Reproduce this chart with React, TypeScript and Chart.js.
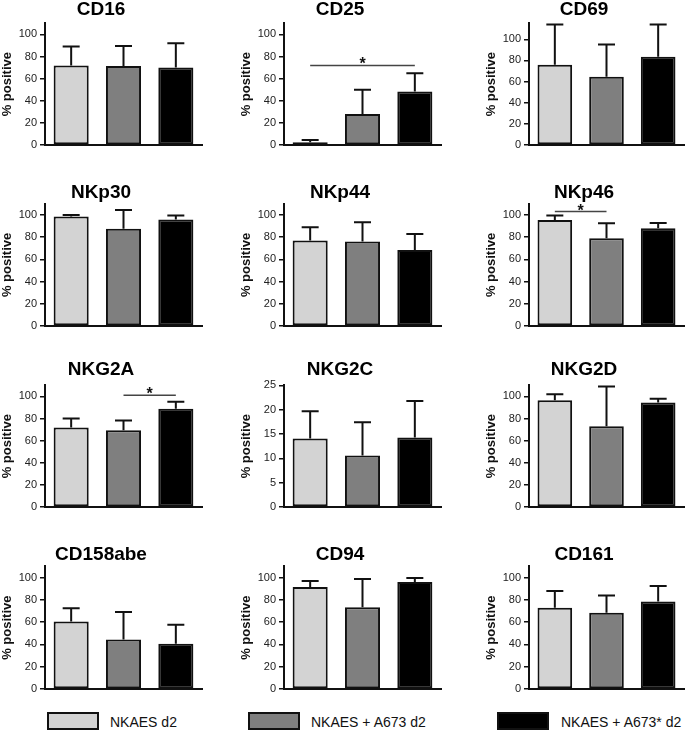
import { useEffect, useRef } from "react"
import { Chart, registerables } from "chart.js"

Chart.register(...registerables)

// markers, one small chart each (row by row)
const markers = ["CD16", "CD25", "CD69", "NKp30", "NKp44", "NKp46", "NKG2A", "NKG2C", "NKG2D", "CD158abe", "CD94", "CD161"]
const groups = ["NKAES d2", "NKAES + A673 d2", "NKAES + A673* d2"]
const groupColors = ["#d3d3d3", "#7f7f7f", "#000000"]

// mean % positive per group
const nkaesD2 = [72, 2.5, 76, 98.5, 77, 95.5, 72, 14.1, 96.5, 60.5, 91.5, 73]
const nkaesA673 = [71.5, 28, 64.5, 87.5, 76, 79, 69.5, 10.6, 73, 44.5, 73.3, 68.5]
const nkaesA673Star = [70, 48.5, 83.5, 95.8, 68.3, 88, 88.8, 14.3, 94.6, 40.7, 96, 78.5]

// SD (upper error bar only)
const sdD2 = [17, 2, 38, 1.5, 12, 4, 8, 5.6, 5.5, 12, 5.3, 15]
const sdA673 = [18, 22, 30.5, 17, 17.5, 13.5, 8.7, 6.8, 36, 24.5, 25.5, 15.5]
const sdA673Star = [22, 16.5, 30.5, 3.7, 14.5, 4.8, 6.5, 7.5, 3.3, 17, 3.7, 14]

// y axis
const yMax = [110, 110, 115, 110, 110, 110, 110, 25, 110, 110, 110, 110]
const pctTicks = [0, 20, 40, 60, 80, 100]
const nkg2cTicks = [0, 5, 10, 15, 20, 25]

// significance bars
const sigMarkers = ["CD25", "NKp46", "NKG2A"]
const sigFrom = [0, 0, 1]
const sigTo = [2, 1, 2]
const sigLevel = [72, 103, 101]

const FONT = "'Liberation Sans', Arial, Helvetica, sans-serif"

// layout of the grid
const colAxisX = [45, 284, 529]
const colWidth = [157, 157, 155]
const rowTitleMid = [9, 192, 369, 554]
const rowAxisTop = [23, 203, 385, 566]
const rowAxisBottom = [145, 326, 507, 689]
const Y_AXIS_W = 45
const TITLE_SIZE = 19
const TITLE_H = TITLE_SIZE * 1.2

const errorBars = {
  id: "errorBars",
  afterDatasetsDraw(chart: any) {
    const { ctx } = chart
    const y = chart.scales.y
    chart.data.datasets.forEach((ds: any, di: number) => {
      const meta = chart.getDatasetMeta(di)
      meta.data.forEach((bar: any, i: number) => {
        const top = y.getPixelForValue(ds.data[i] + ds.sd[i])
        ctx.save()
        ctx.strokeStyle = "#111"
        ctx.lineWidth = 2
        ctx.beginPath()
        ctx.moveTo(bar.x, bar.y)
        ctx.lineTo(bar.x, top)
        ctx.moveTo(bar.x - 8.5, top)
        ctx.lineTo(bar.x + 8.5, top)
        ctx.stroke()
        ctx.restore()
      })
    })
  },
}

const sigBar = {
  id: "sigBar",
  afterDatasetsDraw(chart: any, _args: any, opts: any) {
    if (!opts || opts.from == null) return
    const { ctx } = chart
    const x = chart.scales.x
    const y = chart.scales.y
    const x1 = x.getPixelForValue(opts.from)
    const x2 = x.getPixelForValue(opts.to)
    const yy = y.getPixelForValue(opts.at)
    ctx.save()
    ctx.strokeStyle = "#444"
    ctx.lineWidth = 1.5
    ctx.beginPath()
    ctx.moveTo(x1, yy)
    ctx.lineTo(x2, yy)
    ctx.stroke()
    ctx.fillStyle = "#111"
    ctx.font = `bold 16px ${FONT}`
    ctx.textAlign = "center"
    ctx.textBaseline = "alphabetic"
    ctx.fillText("*", (x1 + x2) / 2, yy + 4)
    ctx.restore()
  },
}

function Panel({ index }: { index: number }) {
  const canvasRef = useRef<HTMLCanvasElement>(null)
  const row = Math.floor(index / 3)
  const col = index % 3
  const left = colAxisX[col] - Y_AXIS_W
  const top = rowTitleMid[row] - TITLE_H / 2
  const width = Y_AXIS_W + colWidth[col] + 3
  const height = rowAxisBottom[row] - top + 12
  const titlePad = Math.max(0, rowAxisTop[row] - top - TITLE_H)

  useEffect(() => {
    if (!canvasRef.current) return
    const name = markers[index]
    const ticks = name === "NKG2C" ? nkg2cTicks : pctTicks
    const s = sigMarkers.indexOf(name)
    const sig = s >= 0 ? { from: sigFrom[s], to: sigTo[s], at: sigLevel[s] } : {}

    const chart = new Chart(canvasRef.current, {
      type: "bar",
      data: {
        labels: groups,
        datasets: [
          {
            data: [nkaesD2[index], nkaesA673[index], nkaesA673Star[index]],
            sd: [sdD2[index], sdA673[index], sdA673Star[index]],
            backgroundColor: groupColors,
            borderColor: "#111",
            borderWidth: 2,
            borderSkipped: false,
            barPercentage: 0.67,
            categoryPercentage: 1,
          } as any,
        ],
      },
      options: {
        animation: false,
        responsive: false,
        layout: { padding: { left: 0, right: 3, top: 0, bottom: 12 } },
        scales: {
          x: {
            grid: { display: false },
            ticks: { display: false },
            border: { color: "#111", width: 2 },
            afterFit: (sc: any) => {
              sc.height = 0
            },
          },
          y: {
            min: 0,
            max: yMax[index],
            afterBuildTicks: (sc: any) => {
              sc.ticks = ticks.map((v) => ({ value: v }))
            },
            afterFit: (sc: any) => {
              sc.width = Y_AXIS_W
            },
            grid: { drawOnChartArea: false, tickLength: 5, color: "#111", lineWidth: 1.5 },
            border: { color: "#111", width: 2 },
            ticks: { font: { size: 11, family: FONT }, color: "#222", padding: 3 },
            title: {
              display: true,
              text: "% positive",
              color: "#111",
              font: { size: 13, weight: "bold", family: FONT },
              padding: { top: 0, bottom: 0 },
            },
          },
        },
        plugins: {
          legend: { display: false },
          tooltip: { enabled: false },
          title: {
            display: true,
            text: name,
            color: "#000",
            font: { size: TITLE_SIZE, weight: "bold", family: FONT, lineHeight: 1.2 },
            padding: { top: 0, bottom: titlePad },
          },
          sigBar: sig,
        } as any,
      },
      plugins: [errorBars, sigBar],
    })

    return () => {
      chart.destroy()
    }
  }, [index])

  return (
    <canvas
      ref={canvasRef}
      width={width}
      height={height}
      style={{ position: "absolute", left, top, width, height }}
    />
  )
}

const legendBoxX = [47, 248, 497]
const legendTextX = [110, 311, 561]

export default function App() {
  return (
    <div
      style={{
        position: "absolute",
        left: 0,
        top: 0,
        width: 685,
        height: 730,
        background: "#fff",
        overflow: "hidden",
        fontFamily: FONT,
      }}
    >
      {markers.map((m, i) => (
        <Panel key={m} index={i} />
      ))}
      {groups.map((g, i) => (
        <div key={g}>
          <div
            style={{
              position: "absolute",
              left: legendBoxX[i],
              top: 712,
              width: 52,
              height: 18,
              boxSizing: "border-box",
              border: "2px solid #111",
              background: groupColors[i],
            }}
          />
          <div
            style={{
              position: "absolute",
              left: legendTextX[i],
              top: 712,
              height: 20,
              lineHeight: "20px",
              fontSize: 14,
              color: "#111",
              whiteSpace: "nowrap",
            }}
          >
            {g}
          </div>
        </div>
      ))}
    </div>
  )
}
